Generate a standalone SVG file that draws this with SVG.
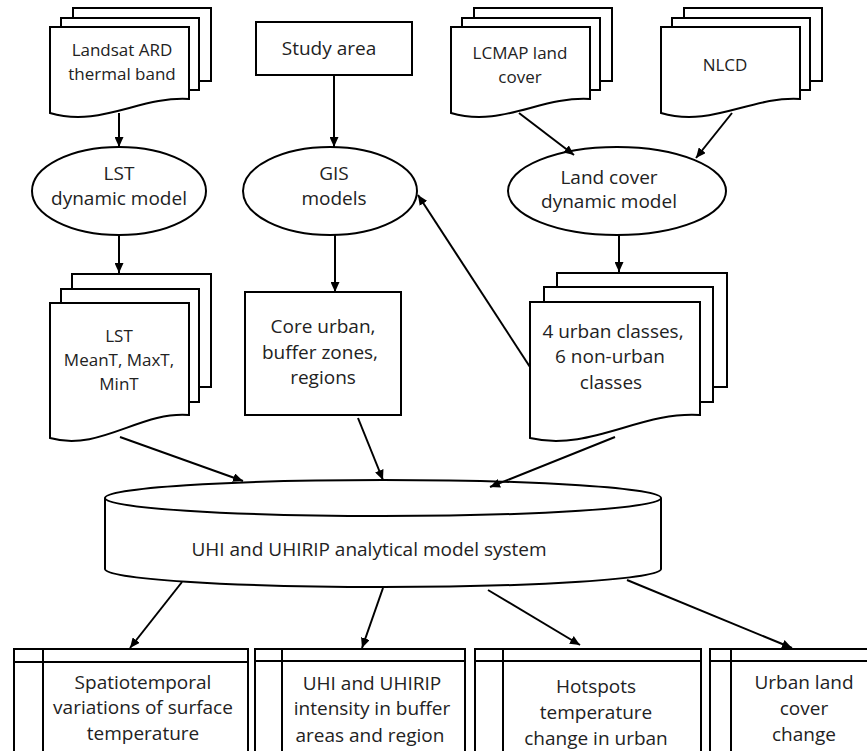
<svg xmlns="http://www.w3.org/2000/svg" width="867" height="751" viewBox="0 0 867 751">
<style>
.s{fill:#fff;stroke:#000;stroke-width:2}
.n{fill:none;stroke:#000;stroke-width:2}
.t{font-family:"Open Sans","Noto Sans","DejaVu Sans",sans-serif;font-size:19px;fill:#222;text-anchor:middle}
.t17{font-size:17px}
.c{fill:none;stroke:#000;stroke-width:2;marker-end:url(#ah)}
</style>
<defs>
<marker id="ah" markerUnits="userSpaceOnUse" markerWidth="11" markerHeight="9" refX="10" refY="4.5" orient="auto">
<path d="M0,0 L10,4.5 L0,9 Z" fill="#000"/>
</marker>
</defs>
<rect width="867" height="751" fill="#fff"/>

<g id="landsat">
<rect class="s" x="73" y="8" width="138" height="73"/>
<rect class="s" x="61" y="18" width="138" height="72"/>
<path class="s" d="M50,27 H189 V99 C140,96 100,128 50,113 Z"/>
<text class="t t17" x="122" y="56">Landsat ARD</text>
<text class="t t17" x="122" y="80">thermal  band</text>
</g>

<g id="study-area">
<rect class="s" x="256" y="22" width="156" height="53"/>
<text class="t" x="329" y="55">Study area</text>
</g>

<g id="lcmap">
<rect class="s" x="474" y="8" width="138" height="73"/>
<rect class="s" x="462" y="18" width="138" height="72"/>
<path class="s" d="M451,27 H590 V99 C541,96 501,128 451,113 Z"/>
<text class="t t17" x="520" y="59">LCMAP land</text>
<text class="t t17" x="520" y="83">cover</text>
</g>

<g id="nlcd">
<rect class="s" x="684" y="8" width="138" height="73"/>
<rect class="s" x="672" y="18" width="138" height="72"/>
<path class="s" d="M661,27 H800 V99 C751,96 711,128 661,113 Z"/>
<text class="t t17" x="725" y="71">NLCD</text>
</g>

<g id="lst-model">
<ellipse class="s" cx="119" cy="191" rx="87" ry="44"/>
<text class="t" x="119" y="180">LST</text>
<text class="t" x="119" y="205">dynamic model</text>
</g>

<g id="gis-models">
<ellipse class="s" cx="330" cy="191" rx="87" ry="44"/>
<text class="t" x="334" y="180">GIS</text>
<text class="t" x="334" y="205">models</text>
</g>

<g id="landcover-model">
<ellipse class="s" cx="617" cy="191" rx="109" ry="44"/>
<text class="t" x="609" y="184">Land cover</text>
<text class="t" x="609" y="208">dynamic model</text>
</g>

<g id="lst-data">
<rect class="s" x="72" y="274" width="139" height="113"/>
<rect class="s" x="61" y="289" width="138" height="113"/>
<path class="s" d="M50,303 H189 V415 C140,411 100,452 50,438 Z"/>
<text class="t t17" x="119" y="342">LST</text>
<text class="t t17" x="119" y="366">MeanT,  MaxT,</text>
<text class="t t17" x="119" y="390">MinT</text>
</g>

<g id="core-urban">
<rect class="s" x="245" y="292" width="156" height="123"/>
<text class="t" x="323" y="333">Core urban,</text>
<text class="t" x="320" y="359">buffer zones,</text>
<text class="t" x="323" y="384">regions</text>
</g>

<g id="urban-classes">
<rect class="s" x="557" y="273" width="170" height="114"/>
<rect class="s" x="544" y="287" width="169" height="115"/>
<path class="s" d="M530,302 H700 V415 C640,411 590,452 530,438 Z"/>
<text class="t" x="613" y="338">4 urban  classes,</text>
<text class="t" x="610" y="363">6 non-urban</text>
<text class="t" x="611" y="389">classes</text>
</g>

<g id="uhi-system">
<path class="s" d="M105,498 A278,18 0 0 1 661,498 V569 A278,18 0 0 1 105,569 Z"/>
<path class="n" d="M105,498 A278,18 0 0 0 661,498"/>
<text class="t" x="369" y="556">UHI and UHIRIP analytical model system</text>
</g>

<g id="out-spatiotemporal">
<rect class="s" x="14" y="649" width="234" height="130"/>
<line class="n" x1="14" y1="662" x2="248" y2="662"/>
<line class="n" x1="43" y1="649" x2="43" y2="779"/>
<text class="t" x="143" y="689">Spatiotemporal</text>
<text class="t" x="143" y="714">variations of surface</text>
<text class="t" x="143" y="740">temperature</text>
</g>

<g id="out-intensity">
<rect class="s" x="255" y="649" width="210" height="130"/>
<line class="n" x1="255" y1="661" x2="465" y2="661"/>
<line class="n" x1="282" y1="649" x2="282" y2="779"/>
<text class="t" x="372" y="690">UHI and UHIRIP</text>
<text class="t" x="372" y="715">intensity in buffer</text>
<text class="t" x="370" y="742">areas and region</text>
</g>

<g id="out-hotspots">
<rect class="s" x="475" y="649" width="226" height="130"/>
<line class="n" x1="475" y1="661" x2="701" y2="661"/>
<line class="n" x1="503" y1="649" x2="503" y2="779"/>
<text class="t" x="596" y="693">Hotspots</text>
<text class="t" x="596" y="719">temperature</text>
<text class="t" x="596" y="745">change in urban</text>
</g>

<g id="out-landcover">
<rect class="s" x="710" y="649" width="180" height="130"/>
<line class="n" x1="710" y1="661" x2="890" y2="661"/>
<line class="n" x1="731" y1="649" x2="731" y2="779"/>
<text class="t" x="804" y="689">Urban land</text>
<text class="t" x="804" y="715">cover</text>
<text class="t" x="804" y="741">change</text>
</g>

<g id="connectors">
<line class="c" x1="119" y1="113" x2="119" y2="147"/>
<line class="c" x1="334" y1="75" x2="334" y2="147"/>
<line class="c" x1="519" y1="113" x2="574" y2="155"/>
<line class="c" x1="732" y1="113" x2="696" y2="158"/>
<line class="c" x1="119" y1="235" x2="119" y2="273"/>
<line class="c" x1="335" y1="235" x2="335" y2="292"/>
<line class="c" x1="619" y1="235" x2="619" y2="272"/>
<line class="c" x1="530" y1="367" x2="418" y2="195"/>
<line class="c" x1="120" y1="437" x2="243" y2="481"/>
<line class="c" x1="358" y1="418" x2="383" y2="480"/>
<line class="c" x1="615" y1="437" x2="490" y2="487"/>
<line class="c" x1="182" y1="582" x2="130" y2="648"/>
<line class="c" x1="383" y1="588" x2="362" y2="648"/>
<line class="c" x1="488" y1="590" x2="580" y2="645"/>
<line class="c" x1="627" y1="580" x2="792" y2="648"/>
</g>
</svg>
